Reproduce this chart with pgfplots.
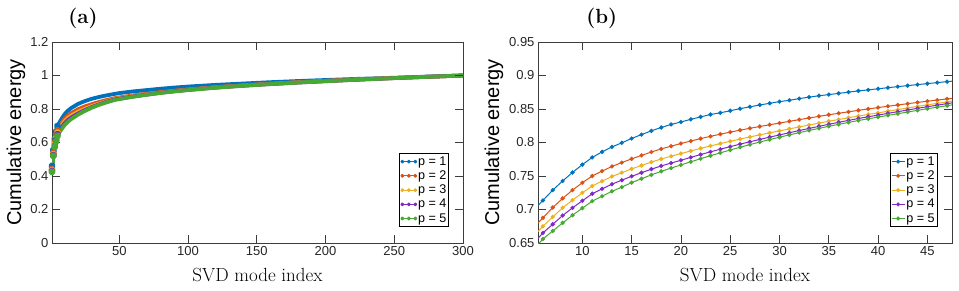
\documentclass[border=0pt]{standalone}
\usepackage{fontspec}
\usepackage{pgfplots}
\usepackage{pgfplotstable}
\pgfplotsset{compat=1.18}
\newfontfamily\arial{Liberation Sans}
\definecolor{c1}{RGB}{0,114,189}
\definecolor{c2}{RGB}{217,83,25}
\definecolor{c3}{RGB}{237,177,32}
\definecolor{c4}{RGB}{128,40,200}
\definecolor{c5}{RGB}{72,168,52}
\definecolor{axc}{RGB}{60,60,60}

\pgfplotstableread{
x b o y p g
1 0.46 0.44 0.435 0.43 0.425
2 0.555 0.54 0.53 0.525 0.52
3 0.62 0.60 0.59 0.58 0.575
4 0.665 0.64 0.627 0.616 0.607
5 0.698 0.672 0.659 0.649 0.640
6 0.7136 0.6876 0.675 0.665 0.656
8 0.7426 0.7166 0.7026 0.691 0.680
10 0.767 0.740 0.725 0.713 0.702
12 0.786 0.7573 0.7423 0.7308 0.7198
15 0.806 0.7756 0.7606 0.7496 0.7401
20 0.8306 0.7985 0.7835 0.7735 0.7665
25 0.8474 0.8155 0.8018 0.7938 0.7888
30 0.861 0.829 0.8173 0.8113 0.8079
35 0.8715 0.8414 0.8317 0.8272 0.8242
40 0.8802 0.8521 0.8442 0.8409 0.8379
47 0.8908 0.865 0.8606 0.858 0.855
50 0.895 0.869 0.865 0.862 0.859
60 0.905 0.881 0.877 0.875 0.873
70 0.913 0.891 0.888 0.886 0.885
80 0.921 0.901 0.898 0.897 0.896
90 0.928 0.909 0.907 0.906 0.905
100 0.934 0.917 0.915 0.914 0.913
120 0.944 0.930 0.929 0.928 0.927
140 0.952 0.941 0.940 0.939 0.939
160 0.960 0.951 0.950 0.949 0.949
180 0.967 0.960 0.959 0.958 0.958
200 0.973 0.968 0.967 0.966 0.966
220 0.979 0.975 0.975 0.974 0.974
240 0.984 0.982 0.982 0.981 0.981
260 0.989 0.988 0.988 0.988 0.988
280 0.995 0.994 0.994 0.994 0.994
300 1 1 1 1 1
}\dataA

\pgfplotstableread{
x b o y p g
5 0.698 0.672 0.659 0.649 0.640
6 0.7136 0.6876 0.6750 0.665 0.656
7 0.729 0.703 0.689 0.678 0.668
8 0.7426 0.7166 0.7026 0.691 0.680
9 0.7553 0.729 0.714 0.7025 0.6915
10 0.767 0.740 0.725 0.713 0.702
11 0.7777 0.750 0.735 0.7235 0.7125
12 0.786 0.7573 0.7423 0.7308 0.7198
13 0.7934 0.7643 0.7493 0.7378 0.7271
14 0.7995 0.770 0.755 0.7438 0.7334
15 0.806 0.7756 0.7606 0.7496 0.7401
16 0.8118 0.7807 0.7657 0.7549 0.7459
17 0.8174 0.7858 0.7708 0.7602 0.7517
18 0.8224 0.7904 0.7754 0.765 0.757
19 0.827 0.7945 0.7795 0.7693 0.7618
20 0.8306 0.7985 0.7835 0.7735 0.7665
21 0.8346 0.8022 0.7874 0.7778 0.7712
22 0.8382 0.8058 0.7912 0.782 0.7758
23 0.8418 0.8092 0.7949 0.7861 0.7803
24 0.8443 0.8124 0.7984 0.79 0.7846
25 0.8474 0.8155 0.8018 0.7938 0.7888
26 0.8505 0.8184 0.8051 0.7975 0.7929
27 0.8533 0.8212 0.8083 0.8011 0.7969
28 0.856 0.8239 0.8114 0.8046 0.8007
29 0.8585 0.8265 0.8144 0.808 0.8044
30 0.861 0.829 0.8173 0.8113 0.8079
31 0.863 0.8316 0.8203 0.8146 0.8114
32 0.8655 0.8341 0.8232 0.8178 0.8147
33 0.8677 0.8366 0.8261 0.821 0.818
34 0.8698 0.839 0.8289 0.8241 0.8211
35 0.8715 0.8414 0.8317 0.8272 0.8242
36 0.8733 0.8436 0.8343 0.8301 0.8271
37 0.8752 0.8458 0.8369 0.833 0.83
38 0.877 0.848 0.8395 0.8358 0.8328
39 0.8785 0.8501 0.8419 0.8384 0.8354
40 0.8802 0.8521 0.8442 0.8409 0.8379
41 0.8818 0.8541 0.8467 0.8435 0.8405
42 0.8834 0.856 0.8491 0.846 0.843
43 0.8849 0.8579 0.8515 0.8485 0.8455
44 0.8864 0.8598 0.8539 0.851 0.848
45 0.8879 0.8616 0.8562 0.8534 0.8504
46 0.8894 0.8633 0.8584 0.8557 0.8527
47 0.8908 0.865 0.8606 0.858 0.855
48 0.8922 0.8666 0.8627 0.8602 0.8572
}\dataB

\tikzset{tk/.style={draw=axc, line width=0.8pt}}

\pgfplotsset{
  common/.style={
    scale only axis,
    height=201pt,
    tick label style={font=\arial\fontsize{13}{15}\selectfont, color=black!85},
    axis line style={axc, line width=0.8pt},
    tick align=inside,
    major tick length=8pt,
    tick style={axc, line width=0.8pt},
    every axis x label/.style={at={(axis description cs:0.5,-0.194)}, anchor=base, font=\fontsize{19}{22}\selectfont},
    xlabel={SVD mode index},
    ylabel={Cumulative energy},
    every axis title/.style={anchor=center, font=\bfseries\fontsize{20.5}{24}\selectfont},
    legend cell align=left,
    legend style={font=\arial\fontsize{12.6}{15}\selectfont, draw=black, line width=0.8pt,
      anchor=south east, inner xsep=1pt, inner ysep=1.5pt, row sep=1.6pt,
      nodes={inner sep=1.2pt}},
    legend image code/.code={\draw[line width=1pt, mark size=1.5pt, mark repeat=2, mark phase=2] plot coordinates {(0pt,0pt) (6.5pt,0pt) (13pt,0pt)};},
  },
  bandA/.style={line width=3.8pt, line join=round, line cap=round, mark=*, mark size=1.9pt, mark indices={1,2,3,4,5}},
}

\begin{document}
\begin{tikzpicture}
\path[use as bounding box] (0pt,0pt) rectangle (959pt,290pt);

\begin{axis}[common,
  at={(52pt,47pt)}, anchor=south west,
  width=411pt,
  xmin=1, xmax=300, ymin=0, ymax=1.2,
  xtick={50,100,150,200,250,300},
  ytick={0,0.2,0.4,0.6,0.8,1,1.2},
  yticklabels={0,0.2,0.4,0.6,0.8,1,1.2},
  xticklabels={50,100,150,200,250,300},
  every axis y label/.style={at={(axis description cs:-0.0876,0.5)}, rotate=90, anchor=center, font=\arial\fontsize{20}{24}\selectfont},
  title={(a)}, title style={at={(axis description cs:0.0754,1.119)}},
  legend style={at={(axis description cs:0.966,0.081)}},
]
\addplot[c1, bandA] table[x=x,y=b] {\dataA};
\addplot[c2, bandA] table[x=x,y=o] {\dataA};
\addplot[c3, bandA] table[x=x,y=y] {\dataA};
\addplot[c4, bandA] table[x=x,y=p] {\dataA};
\addplot[c5, bandA] table[x=x,y=g] {\dataA};
\legend{p = 1, p = 2, p = 3, p = 4, p = 5}
\pgfplotsinvokeforeach{50,100,150,200,250}{
  \draw[draw=axc, line width=0.8pt] (axis cs:#1,0) -- ++(0pt,8pt);
  \draw[draw=axc, line width=0.8pt] (axis cs:#1,1.2) -- ++(0pt,-8pt);
}
\pgfplotsinvokeforeach{0.2,0.4,0.6,0.8,1}{
  \draw[draw=axc, line width=0.8pt] (axis cs:1,#1) -- ++(8pt,0pt);
  \draw[draw=axc, line width=0.8pt] (axis cs:300,#1) -- ++(-8pt,0pt);
}
\end{axis}

\begin{axis}[common,
  at={(538pt,47pt)}, anchor=south west,
  width=414pt,
  xmin=5.5, xmax=47.5, ymin=0.65, ymax=0.95,
  xtick={10,15,20,25,30,35,40,45},
  xticklabels={10,15,20,25,30,35,40,45},
  ytick={0.65,0.7,0.75,0.8,0.85,0.9,0.95},
  yticklabels={0.65,0.7,0.75,0.8,0.85,0.9,0.95},
  every axis y label/.style={at={(axis description cs:-0.1063,0.5)}, rotate=90, anchor=center, font=\arial\fontsize{20}{24}\selectfont},
  title={(b)}, title style={at={(axis description cs:0.154,1.119)}},
  legend style={at={(axis description cs:0.9645,0.081)}},
]
\addplot[c1, line width=1pt, mark=*, mark size=1.6pt] table[x=x,y=b] {\dataB};
\addplot[c2, line width=1pt, mark=*, mark size=1.6pt] table[x=x,y=o] {\dataB};
\addplot[c3, line width=1pt, mark=*, mark size=1.6pt] table[x=x,y=y] {\dataB};
\addplot[c4, line width=1pt, mark=*, mark size=1.6pt] table[x=x,y=p] {\dataB};
\addplot[c5, line width=1pt, mark=*, mark size=1.6pt] table[x=x,y=g] {\dataB};
\legend{p = 1, p = 2, p = 3, p = 4, p = 5}
\pgfplotsinvokeforeach{10,15,20,25,30,35,40,45}{
  \draw[draw=axc, line width=0.8pt] (axis cs:#1,0.65) -- ++(0pt,8pt);
  \draw[draw=axc, line width=0.8pt] (axis cs:#1,0.95) -- ++(0pt,-8pt);
}
\pgfplotsinvokeforeach{0.7,0.75,0.8,0.85,0.9}{
  \draw[draw=axc, line width=0.8pt] (axis cs:5.5,#1) -- ++(8pt,0pt);
  \draw[draw=axc, line width=0.8pt] (axis cs:47.5,#1) -- ++(-8pt,0pt);
}
\end{axis}
\end{tikzpicture}
\end{document}
